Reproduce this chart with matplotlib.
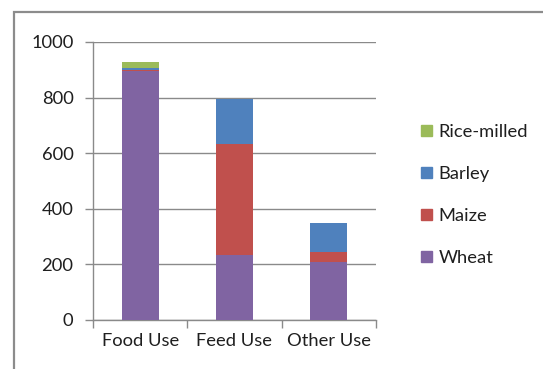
import numpy as np
import matplotlib.pyplot as plt
from matplotlib.patches import Rectangle, Patch

plt.rcParams['font.family'] = ['Lato', 'DejaVu Sans']

categories = ['Food Use', 'Feed Use', 'Other Use']
wheat  = [894, 233, 210]
maize  = [7, 401, 36]
barley = [4, 160, 102]
rice   = [22, 0, 0]

series = [wheat, maize, barley, rice]
names = ['Wheat', 'Maize', 'Barley', 'Rice-milled']
cols = ['#8064A2', '#C0504D', '#4F81BD', '#9BBB59']

fig = plt.figure(figsize=(5.43, 3.69), dpi=100)
ax = fig.add_axes([93/543., 49/369., 283/543., 278/369.])

# outer chart border (partly cut off at the right/bottom like the screenshot)
fig.patches.append(Rectangle((13.5/543., -0.05), 1.0, 1.05 - 12.5/369., transform=fig.transFigure,
                             fill=False, edgecolor='#8c8c8c', linewidth=1.6))

x = np.arange(len(categories))
bottom = np.zeros(len(categories))
for vals, nm, c in zip(series, names, cols):
    vals = np.asarray(vals, dtype=float)
    ax.bar(x, vals, width=0.39, bottom=bottom, color=c, label=nm, linewidth=0, zorder=3)
    bottom += vals

ax.set_xlim(-0.5, 2.5)
ax.set_ylim(0, 1000)
ax.set_yticks(np.arange(0, 1001, 200))
ax.yaxis.grid(True, color='#8a8a8a', linewidth=1.0, zorder=0)
ax.set_axisbelow(True)

# excel style category ticks between groups
ax.set_xticks([-0.5, 0.5, 1.5, 2.5])
ax.set_xticklabels([])
ax.set_xticks(x, minor=True)
ax.set_xticklabels(categories, minor=True, fontsize=13.2, color='#1f1f1f')
ax.tick_params(axis='x', which='minor', length=0, pad=9)
ax.tick_params(axis='x', which='major', length=6, color='#8a8a8a', width=1)
ax.tick_params(axis='y', length=6, color='#8a8a8a', width=1, labelsize=13.2, labelcolor='#1f1f1f', pad=8)

for s in ['top', 'right']:
    ax.spines[s].set_visible(False)
for s in ['left', 'bottom']:
    ax.spines[s].set_color('#8a8a8a')
    ax.spines[s].set_linewidth(1.0)

handles = [Patch(color=c, label=n) for c, n in zip(cols[::-1], names[::-1])]
fig.legend(handles=handles, loc='center left', bbox_to_anchor=(404/543., 1 - 195/369.),
           frameon=False, fontsize=13.2, handlelength=0.6, handleheight=0.6,
           handletextpad=0.4, labelspacing=1.42, labelcolor='#1f1f1f')

fig.savefig('out.png', dpi=100)
